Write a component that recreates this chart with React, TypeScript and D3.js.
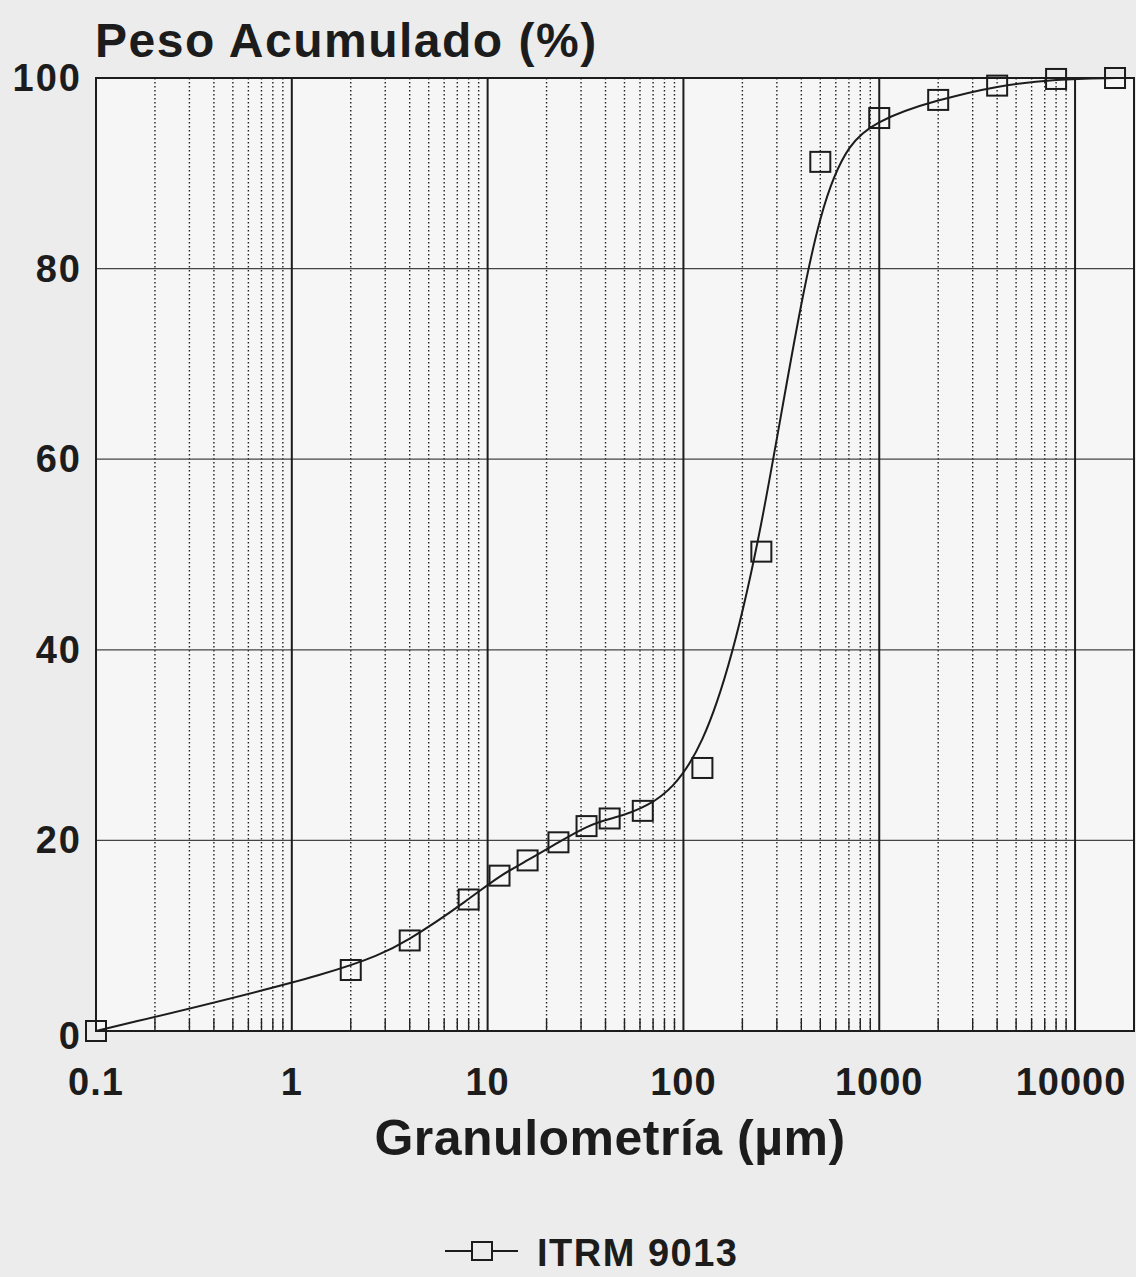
import React from 'react';
import * as d3 from 'd3';

// particle size (µm) and cumulative weight (%)
const sizes = [0.1, 2, 4, 8, 11.5, 16, 23, 32, 42, 62, 125, 250, 500, 1000, 2000, 4000, 8000, 16000];
const peso = [0, 6.4, 9.5, 13.8, 16.3, 17.9, 19.8, 21.5, 22.3, 23.1, 27.6, 50.3, 91.2, 95.8, 97.7, 99.2, 99.9, 100];

const xTicks = [0.1, 1, 10, 100, 1000, 10000];
const xTickLabels = ['0.1', '1', '10', '100', '1000', '10000'];
const yTicks = [0, 20, 40, 60, 80, 100];
const seriesName = 'ITRM 9013';

const width = 1136;
const height = 1277;
const left = 96;
const right = 1134;
const top = 78;
const bottom = 1031;

const font = '"Liberation Sans", Arial, Helvetica, sans-serif';
const ink = '#1c1c1c';

export default function App() {
  const x = d3.scaleLog().domain([0.1, 20000]).range([left, right]);
  const y = d3.scaleLinear().domain([0, 100]).range([bottom, top]);

  // minor gridlines: 2..9 in each decade
  const minor: number[] = [];
  xTicks.forEach((d) => {
    for (let k = 2; k <= 9; k++) {
      const v = d * k;
      if (v < 20000) minor.push(v);
    }
  });

  const pts = sizes.map((s, i) => [x(s), y(peso[i])] as [number, number]);
  const line = d3.line().curve(d3.curveBasis)(pts) || '';

  return (
    <svg
      width={width}
      height={height}
      style={{ position: 'absolute', left: 0, top: 0, display: 'block', background: '#ececec' }}
    >
      <rect x={left} y={top} width={right - left} height={bottom - top} fill="#f6f6f6" />

      {/* minor vertical grid */}
      {minor.map((v) => (
        <g key={'m' + v}>
          <line x1={x(v)} x2={x(v)} y1={top} y2={bottom} stroke="#222" strokeWidth={1.4} strokeDasharray="1.5,2.5" />
          <line x1={x(v)} x2={x(v)} y1={bottom - 12} y2={bottom} stroke="#222" strokeWidth={1.4} />
        </g>
      ))}

      {/* horizontal grid */}
      {yTicks.slice(1, -1).map((t) => (
        <line key={'h' + t} x1={left} x2={right} y1={y(t)} y2={y(t)} stroke="#444" strokeWidth={1.3} />
      ))}

      {/* major vertical grid */}
      {xTicks.map((t) => (
        <line key={'v' + t} x1={x(t)} x2={x(t)} y1={top} y2={bottom} stroke={ink} strokeWidth={2} />
      ))}

      {/* frame */}
      <rect x={left} y={top} width={right - left} height={bottom - top} fill="none" stroke={ink} strokeWidth={2} />

      {/* curve and markers */}
      <path d={line} fill="none" stroke={ink} strokeWidth={2} />
      {pts.map(([px, py], i) => (
        <rect key={'p' + i} x={px - 10} y={py - 10} width={20} height={20} fill="none" stroke={ink} strokeWidth={2} />
      ))}

      {/* y tick labels */}
      {yTicks.map((t) => (
        <text
          key={'yl' + t}
          x={82}
          y={y(t) + (t === 0 ? 5 : 0)}
          textAnchor="end"
          dominantBaseline="central"
          fontFamily={font}
          fontWeight="bold"
          fontSize={38}
          letterSpacing={2}
          fill={ink}
        >
          {t}
        </text>
      ))}

      {/* x tick labels */}
      {xTicks.map((t, i) => (
        <text
          key={'xl' + t}
          x={x(t) - (i === xTicks.length - 1 ? 4 : 0)}
          y={1095}
          textAnchor="middle"
          fontFamily={font}
          fontWeight="bold"
          fontSize={38}
          letterSpacing={1}
          fill={ink}
        >
          {xTickLabels[i]}
        </text>
      ))}

      {/* titles */}
      <text x={95} y={57} fontFamily={font} fontWeight="bold" fontSize={48} letterSpacing={1.5} fill={ink}>
        Peso Acumulado (%)
      </text>
      <text x={610} y={1155} textAnchor="middle" fontFamily={font} fontWeight="bold" fontSize={50} letterSpacing={0.5} fill={ink}>
        Granulometría (µm)
      </text>

      {/* legend */}
      <line x1={445} x2={518} y1={1251} y2={1251} stroke={ink} strokeWidth={2} />
      <rect x={472} y={1242} width={20} height={18} fill="#ececec" stroke={ink} strokeWidth={2} />
      <text x={537} y={1266} fontFamily={font} fontWeight="bold" fontSize={38} letterSpacing={1.5} fill={ink}>
        {seriesName}
      </text>
    </svg>
  );
}
